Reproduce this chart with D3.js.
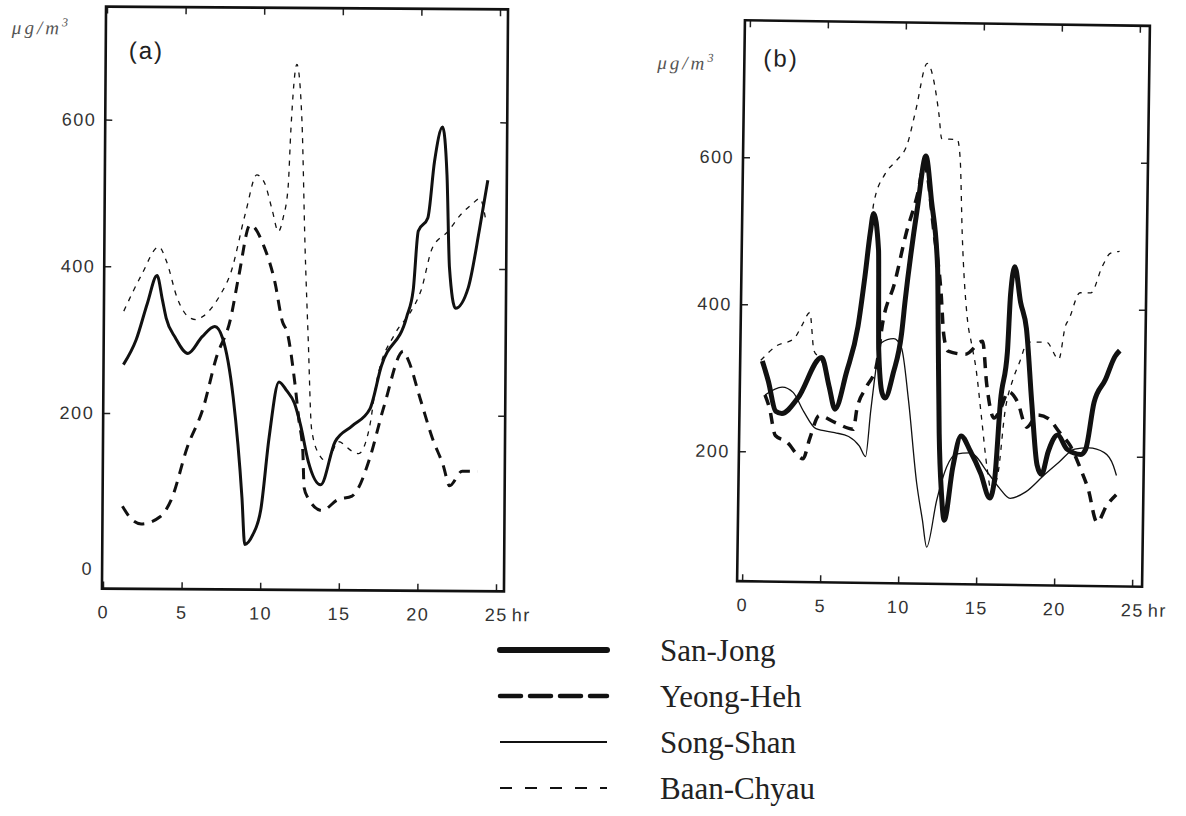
<!DOCTYPE html>
<html lang="en">
<head>
  <meta charset="utf-8">
  <title>Hourly concentration, four stations</title>
  <script src="https://d3js.org/d3.v7.min.js"></script>
  <style>
    body { margin: 0; background: #fff; }
    .tick text { font-family: "Liberation Sans", Arial, sans-serif; font-size: 18px; fill: #333; letter-spacing: 1.5px; }
  </style>
</head>
<body>
  <svg id="chart" width="1186" height="816"></svg>

  <script>
    // ---- data (hour, ug/m3) ----
    const stations = ["San-Jong", "Yeong-Heh", "Song-Shan", "Baan-Chyau"];
    const hourTicks = [0, 5, 10, 15, 20, 25];
    const concTicks = [0, 200, 400, 600];
    const panelLabels = ["(a)", "(b)"];
    const unitLabel = "\u03bcg/m";

    // panel (a)
    const sanJongA = [[1.2,266],[2.0,300],[2.7,350],[3.3,388],[3.65,355],[3.9,330],[4.5,303],[5.3,282],[6.2,305],[7.0,319],[7.5,303],[8.2,222],[8.8,86],[9.0,22],[9.5,35],[10.0,69],[10.5,168],[11.1,244],[11.6,232],[12.1,215],[12.5,185],[13.0,136],[13.8,104],[14.7,163],[15.8,185],[16.9,208],[17.6,266],[19.2,334],[19.6,370],[19.9,451],[20.5,469],[20.9,546],[21.4,593],[21.7,528],[21.9,401],[22.3,346],[23.1,374],[23.8,455],[24.3,521]];
    const yeongHehA = [[1.2,73],[1.8,55],[2.4,49],[3.6,59],[4.3,82],[5.3,154],[6.3,208],[7.1,276],[8.0,330],[8.5,388],[9.2,458],[10.1,428],[10.8,380],[11.3,326],[11.6,312],[12.1,245],[12.4,190],[12.65,150],[12.75,100],[13.0,86],[13.9,69],[14.9,84],[15.8,89],[16.2,100],[16.9,140],[17.8,212],[19.0,287],[19.3,276],[20.1,222],[20.9,168],[21.6,131],[22.0,104],[22.8,124],[23.8,124]];
    const baanChyauA = [[1.2,339],[2.3,388],[3.4,427],[3.9,407],[4.6,357],[5.3,332],[5.8,328],[6.2,332],[7.3,361],[8.0,393],[8.9,474],[9.6,526],[10.1,515],[10.6,478],[11.0,449],[11.3,468],[11.6,510],[11.75,588],[12.1,677],[12.45,600],[12.7,430],[12.95,300],[13.2,180],[13.7,145],[14.2,136],[14.9,163],[15.8,150],[16.2,147],[16.9,185],[17.3,244],[18.5,312],[19.4,339],[20.1,370],[20.8,428],[21.8,451],[22.6,474],[23.3,488],[23.8,496],[24.2,465]];

    // panel (b)
    const sanJongB = [[1.1,323],[1.5,296],[2.0,255],[2.4,252],[3.4,273],[4.9,329],[5.4,290],[5.8,259],[6.5,309],[7.2,372],[7.6,440],[7.9,499],[8.1,526],[8.45,476],[8.55,340],[8.8,282],[9.0,275],[9.5,309],[10.0,363],[10.2,408],[10.9,534],[11.4,605],[11.8,544],[12.25,453],[12.35,363],[12.5,228],[12.7,146],[12.9,110],[13.4,182],[13.9,225],[14.5,205],[15.2,174],[15.8,141],[16.1,168],[16.4,273],[16.8,340],[16.95,418],[17.2,456],[17.6,408],[18.0,372],[18.4,273],[18.8,187],[19.1,174],[19.5,205],[20.1,228],[20.7,209],[21.6,202],[21.9,209],[22.4,273],[23.1,304],[23.7,336],[24.0,344]];
    const yeongHehB = [[1.3,277],[1.6,259],[2.0,222],[2.7,214],[3.8,191],[4.2,218],[4.8,250],[5.8,241],[7.0,232],[7.2,259],[7.8,290],[8.4,317],[8.8,380],[9.5,431],[10.2,499],[10.9,553],[11.3,594],[12.0,499],[12.5,418],[12.7,363],[13.0,340],[14.1,336],[15.2,354],[15.5,296],[16.0,250],[16.4,262],[16.9,286],[17.5,272],[18.1,238],[18.8,255],[19.5,250],[20.2,232],[20.9,214],[21.6,182],[22.1,155],[22.7,110],[23.3,133],[23.9,148]];
    const songShanB = [[1.3,277],[2.4,288],[3.1,281],[3.8,255],[4.6,232],[5.8,227],[6.7,222],[7.4,209],[7.8,195],[8.1,259],[8.7,350],[9.5,356],[10.0,344],[10.5,273],[11.1,160],[11.5,110],[11.8,73],[12.4,137],[13.0,182],[13.6,200],[14.5,202],[15.7,174],[16.4,155],[17.1,141],[18.1,150],[19.3,174],[20.2,191],[21.2,209],[22.1,211],[23.1,205],[23.7,187],[23.9,174]];
    const baanChyauB = [[1.0,324],[2.0,344],[3.1,354],[3.6,372],[4.1,390],[4.4,338],[4.9,325],[5.4,288],[5.8,262],[6.5,310],[7.2,374],[7.9,500],[8.1,540],[8.8,580],[9.5,598],[10.2,621],[10.7,666],[11.4,731],[12.2,662],[12.4,629],[13.4,628],[13.6,602],[13.8,499],[14.2,385],[14.5,350],[14.8,317],[15.2,250],[15.6,182],[15.9,150],[16.3,174],[16.7,259],[17.2,304],[17.6,327],[18.1,354],[19.3,354],[20.1,331],[20.5,377],[20.7,385],[21.4,422],[22.1,422],[22.8,458],[23.3,476],[23.9,479]];

    // line looks per station: width in (a), width in (b), dash
    const looks = {
      "San-Jong":   { wa: 3,   wb: 5,   dash: null },
      "Yeong-Heh":  { wa: 3,   wb: 3.5, dash: "11,8" },
      "Song-Shan":  { wa: 1.3, wb: 1.3, dash: null },
      "Baan-Chyau": { wa: 1.3, wb: 1.3, dash: "5,6" }
    };

    let svg = d3.select("#chart");

    function drawPanel(p) {
      let x = d3.scaleLinear().domain([0, 25]).range(p.xRange);
      let y = d3.scaleLinear().domain([0, 600]).range(p.yRange);
      let [fx0, fy0, fx1, fy1] = p.frame;
      // the scanned page sits a little askew
      let g = svg.append("g")
        .attr("transform", `rotate(${p.tilt},${(fx0 + fx1) / 2},${(fy0 + fy1) / 2})`);

      g.append("g")
        .attr("transform", `translate(0,${fy1})`)
        .call(d3.axisBottom(x).tickValues(hourTicks).tickSizeInner(-7).tickSizeOuter(0).tickPadding(17));
      g.append("g")
        .attr("transform", `translate(0,${fy0})`)
        .call(d3.axisTop(x).tickValues(hourTicks).tickSizeInner(-7).tickSizeOuter(0).tickFormat(""));
      let left = g.append("g")
        .attr("transform", `translate(${fx0},0)`)
        .call(d3.axisLeft(y).tickValues(p.yTicks).tickSizeInner(-7).tickSizeOuter(0).tickPadding(9));
      g.append("g")
        .attr("transform", `translate(${fx1},0)`)
        .call(d3.axisRight(y).tickValues([200, 400, 600]).tickSizeInner(-7).tickSizeOuter(0).tickFormat(""));

      g.selectAll(".domain").remove();
      g.selectAll(".tick line").style("stroke", "#222").style("stroke-width", 1.5);
      // the zero label sits a bit low on the original, with no tick
      left.selectAll(".tick").filter(d => d === 0).select("text").attr("transform", "translate(0,9)");
      left.selectAll(".tick").filter(d => d === 0).select("line").remove();

      g.append("text")
        .attr("x", x(25) + 16)
        .attr("y", fy1 + 17)
        .attr("dy", "0.71em")
        .style("font-family", "Liberation Sans, Arial, sans-serif")
        .style("font-size", "18px")
        .style("fill", "#333")
        .style("letter-spacing", "1.5px")
        .text("hr");

      g.append("rect")
        .attr("x", fx0)
        .attr("y", fy0)
        .attr("width", fx1 - fx0)
        .attr("height", fy1 - fy0)
        .style("fill", "none")
        .style("stroke", "#111")
        .style("stroke-width", 2.6);

      let line = d3.line()
        .x(d => x(d[0]))
        .y(d => y(d[1]))
        .curve(d3.curveMonotoneX);

      g.append("g")
        .selectAll("path")
        .data(p.series)
        .join("path")
        .attr("d", d => line(d.values))
        .style("fill", "none")
        .style("stroke", "#111")
        .style("stroke-width", d => p.wide ? looks[d.name].wb : looks[d.name].wa)
        .style("stroke-dasharray", d => looks[d.name].dash)
        .style("stroke-linejoin", "round");

      g.append("text")
        .attr("x", p.tag[0])
        .attr("y", p.tag[1])
        .style("font-family", "Liberation Sans, Arial, sans-serif")
        .style("font-size", "24px")
        .style("fill", "#222")
        .style("letter-spacing", "2px")
        .text(p.label);

      let unit = g.append("text")
        .attr("x", p.unit[0])
        .attr("y", p.unit[1])
        .style("font-family", "Liberation Serif, serif")
        .style("font-style", "italic")
        .style("font-size", "19px")
        .style("fill", "#555")
        .style("letter-spacing", "3px")
        .text(unitLabel);
      unit.append("tspan")
        .attr("dy", -8)
        .style("font-size", "12px")
        .text("3");
    }

    drawPanel({
      label: panelLabels[0],
      xRange: [105, 498],
      yRange: [561, 121],
      frame: [104, 8, 506, 590],
      yTicks: concTicks,
      tag: [127, 60],
      unit: [10, 36],
      tilt: 0.4,
      wide: false,
      series: [
        { name: "Baan-Chyau", values: baanChyauA },
        { name: "Yeong-Heh", values: yeongHehA },
        { name: "San-Jong", values: sanJongA }
      ]
    });

    drawPanel({
      label: panelLabels[1],
      xRange: [746, 1136],
      yRange: [601, 160],
      frame: [741, 23, 1146, 584],
      yTicks: [200, 400, 600],
      tag: [760, 69],
      unit: [654, 73],
      tilt: 0.8,
      wide: true,
      series: [
        { name: "Baan-Chyau", values: baanChyauB },
        { name: "Song-Shan", values: songShanB },
        { name: "Yeong-Heh", values: yeongHehB },
        { name: "San-Jong", values: sanJongB }
      ]
    });

    // legend
    let legendY = d3.scalePoint().domain(stations).range([650, 788]);
    let legend = svg.append("g").selectAll("g")
      .data(stations)
      .join("g")
      .attr("transform", d => `translate(0,${legendY(d)})`);

    legend.append("line")
      .attr("x1", 500)
      .attr("x2", 607)
      .style("stroke", "#111")
      .style("stroke-width", d => d === "San-Jong" ? 6 : d === "Yeong-Heh" ? 4.5 : 2)
      .style("stroke-dasharray", d => d === "Yeong-Heh" ? "21,9" : d === "Baan-Chyau" ? "12,13" : null)
      .style("stroke-linecap", d => d === "Song-Shan" || d === "Baan-Chyau" ? "butt" : "round");

    legend.append("text")
      .attr("x", 660)
      .attr("y", 11)
      .style("font-family", "Liberation Serif, serif")
      .style("font-size", "31px")
      .style("fill", "#222")
      .text(d => d);
  </script>
</body>
</html>
